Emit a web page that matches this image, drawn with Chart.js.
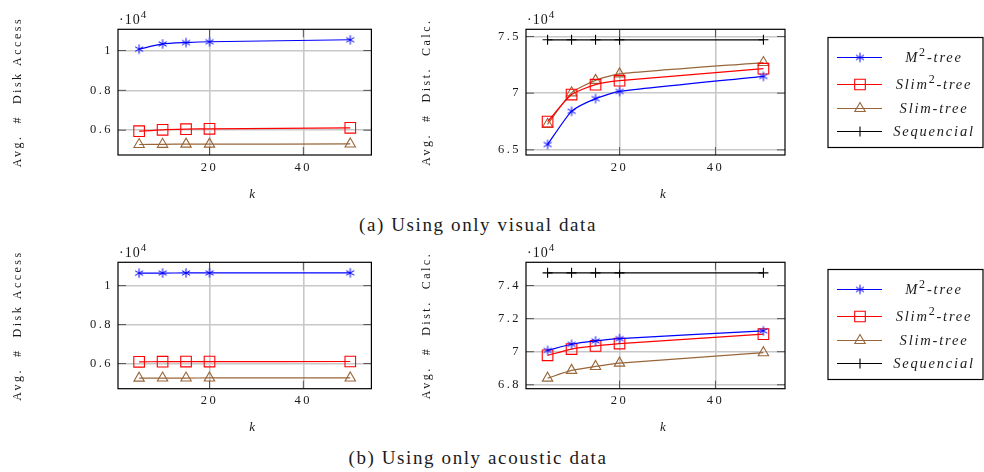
<!doctype html>
<html lang="en">
<head>
<meta charset="utf-8">
<title>Avg. disk access and distance calculations vs k</title>
<script src="https://cdn.jsdelivr.net/npm/chart.js"></script>
<style>
  body { margin: 0; background: #fff; width: 984px; height: 472px; position: relative; overflow: hidden;
         font-family: 'Liberation Serif', serif; color: #1a1a1a; }
  .plot { position: absolute; }
  .caption { position: absolute; left: 0; width: 956px; text-align: center; font-size: 19px;
             line-height: 20px; letter-spacing: 1.6px; }
</style>
</head>
<body>
<div class="plot" style="left:0;top:0"><canvas id="visDisk"></canvas></div>
<div class="plot" style="left:380px;top:0"><canvas id="visDist"></canvas></div>
<div class="caption" style="top:215px">(a) Using only visual data</div>
<div class="plot" style="left:0;top:232px"><canvas id="acoDisk"></canvas></div>
<div class="plot" style="left:380px;top:232px"><canvas id="acoDist"></canvas></div>
<div class="caption" style="top:448px">(b) Using only acoustic data</div>

<script>
// ---- data ----
const kValues = [5, 10, 15, 20, 50];
const xTicks = [20, 40];
const seriesNames = ['M²-tree', 'Slim²-tree', 'Slim-tree', 'Sequencial'];

// (a) visual data
const visDiskM2    = [10070, 10330, 10400, 10440, 10540];
const visDiskSlim2 = [5950, 6020, 6050, 6070, 6120];
const visDiskSlim  = [5280, 5290, 5300, 5300, 5310];
const visDistM2    = [65470, 68400, 69520, 70150, 71480];
const visDistSlim2 = [67490, 69880, 70750, 71100, 72160];
const visDistSlim  = [67250, 70030, 71130, 71700, 72700];
const visDistSeq   = [74710, 74710, 74710, 74710, 74710];

// (b) acoustic data
const acoDiskM2    = [10640, 10645, 10650, 10650, 10655];
const acoDiskSlim2 = [6090, 6095, 6100, 6100, 6105];
const acoDiskSlim  = [5250, 5255, 5255, 5260, 5260];
const acoDistM2    = [70080, 70450, 70650, 70790, 71260];
const acoDistSlim2 = [69780, 70160, 70350, 70490, 71060];
const acoDistSlim  = [68400, 68870, 69110, 69310, 69940];
const acoDistSeq   = [74770, 74770, 74770, 74770, 74770];

const diskTicks    = [6000, 8000, 10000];
const visDistTicks = [65000, 70000, 75000];
const acoDistTicks = [68000, 70000, 72000, 74000];

// ---- styling ----
Chart.defaults.font.family = "'Liberation Serif', serif";
Chart.defaults.color = '#1a1a1a';
const GRID = '#c8c8c8';
const X_AXIS_H = 48;
const NONE = 'rgba(0,0,0,0)';

function asterisk(color) {
  const c = document.createElement('canvas');
  c.width = c.height = 12;
  const g = c.getContext('2d');
  g.strokeStyle = color;
  g.lineWidth = 1;
  g.translate(6, 6);
  for (const a of [90, 30, -30]) {
    const r = a * Math.PI / 180;
    g.beginPath();
    g.moveTo(-4.7 * Math.cos(r), -4.7 * Math.sin(r));
    g.lineTo(4.7 * Math.cos(r), 4.7 * Math.sin(r));
    g.stroke();
  }
  return c;
}

const styles = [
  { color: '#0000ff', pointStyle: asterisk('#0000ff'), radius: 5 },
  { color: '#ff0000', pointStyle: 'rect', radius: 7.5 },
  { color: '#99663a', pointStyle: 'triangle', radius: 6 },
  { color: '#000000', pointStyle: 'cross', radius: 5 }
];

function series(i, values) {
  const s = styles[i];
  return {
    label: seriesNames[i],
    data: kValues.map((k, j) => ({ x: k, y: values[j] })),
    borderColor: s.color,
    backgroundColor: NONE,
    borderWidth: 1.2,
    pointStyle: s.pointStyle,
    pointRadius: s.radius,
    pointBorderColor: s.color,
    pointBackgroundColor: NONE,
    pointBorderWidth: 1.1,
    tension: 0.2
  };
}

// pgfplots-like limits: data range plus 10% each side
function limits(arrs) {
  const all = arrs.flat();
  const lo = Math.min(...all), hi = Math.max(...all);
  const pad = (hi - lo) * 0.1;
  return { min: lo - pad, max: hi + pad };
}

function richText(ctx, text, cx, y) {
  const parts = text.split('²');
  const base = 'italic 14.5px "Liberation Serif"';
  const sup = '12px "Liberation Serif"';
  ctx.font = base;
  const w0 = ctx.measureText(parts[0]).width;
  const w2 = parts.length > 1 ? ctx.measureText(parts[1]).width : 0;
  ctx.font = sup;
  const ws = parts.length > 1 ? ctx.measureText('2').width : 0;
  let x = cx - (w0 + ws + w2) / 2;
  ctx.font = base;
  ctx.fillText(parts[0], x, y);
  if (parts.length > 1) {
    x += w0;
    ctx.font = sup;
    ctx.fillText('2', x, y - 6);
    x += ws;
    ctx.font = base;
    ctx.fillText(parts[1], x, y);
  }
}

const framePlugin = {
  id: 'frame',
  beforeDraw(chart) {
    chart.ctx.letterSpacing = '2.5px';
  },
  afterDraw(chart, args, opts) {
    const { ctx, chartArea: a, scales } = chart;
    ctx.save();
    // inner tick marks on all four sides
    ctx.strokeStyle = '#555';
    ctx.lineWidth = 1;
    ctx.beginPath();
    scales.x.ticks.forEach(t => {
      const x = scales.x.getPixelForValue(t.value);
      ctx.moveTo(x, a.bottom); ctx.lineTo(x, a.bottom - 8);
      ctx.moveTo(x, a.top); ctx.lineTo(x, a.top + 8);
    });
    scales.y.ticks.forEach(t => {
      const y = scales.y.getPixelForValue(t.value);
      ctx.moveTo(a.left, y); ctx.lineTo(a.left + 8, y);
      ctx.moveTo(a.right, y); ctx.lineTo(a.right - 8, y);
    });
    ctx.stroke();
    // axis box
    ctx.strokeStyle = '#000';
    ctx.lineWidth = 1.2;
    ctx.strokeRect(a.left, a.top, a.right - a.left, a.bottom - a.top);
    // scale factor
    ctx.fillStyle = '#1a1a1a';
    ctx.letterSpacing = '1px';
    ctx.textAlign = 'left';
    ctx.textBaseline = 'alphabetic';
    ctx.font = '14px "Liberation Serif"';
    ctx.fillText('·10', a.left + 1, a.top - 5);
    const w = ctx.measureText('·10').width;
    ctx.font = '11px "Liberation Serif"';
    ctx.fillText('4', a.left + 1 + w, a.top - 11);

    const L = opts.legend;
    if (L) {
      ctx.strokeStyle = '#000';
      ctx.lineWidth = 1.2;
      ctx.strokeRect(L.x, L.y, L.w, L.h);
      ctx.letterSpacing = '1.8px';
      chart.data.datasets.forEach((ds, i) => {
        const y = L.rows[i];
        ctx.strokeStyle = ds.borderColor;
        ctx.lineWidth = ds.borderWidth;
        ctx.beginPath();
        ctx.moveTo(L.x + 9, y); ctx.lineTo(L.x + 54, y);
        ctx.stroke();
        ctx.fillStyle = NONE;
        ctx.lineWidth = ds.pointBorderWidth;
        Chart.helpers.drawPoint(ctx, {
          pointStyle: ds.pointStyle, radius: ds.pointRadius,
          borderWidth: ds.pointBorderWidth, rotation: 0
        }, L.x + 32, y);
        ctx.fillStyle = '#1a1a1a';
        richText(ctx, ds.label, L.x + 106, y + 4.5);
      });
    }
    ctx.restore();
  }
};

function makeChart(id, w, h, box, yTitle, yTitlePad, yTicks, sets, legend) {
  const canvas = document.getElementById(id);
  canvas.width = w;
  canvas.height = h;
  const lim = limits(sets.map(s => s[1]));
  return new Chart(canvas, {
    type: 'line',
    data: { datasets: sets.map(([i, v]) => series(i, v)) },
    options: {
      responsive: false,
      animation: false,
      layout: { padding: { left: 0, top: box.top, right: w - box.right, bottom: h - box.bottom - X_AXIS_H } },
      plugins: { legend: { display: false }, tooltip: { enabled: false }, frame: { legend } },
      scales: {
        x: {
          type: 'linear', min: 0.5, max: 54.5,
          afterBuildTicks: s => { s.ticks = xTicks.map(v => ({ value: v })); },
          afterFit: s => { s.height = X_AXIS_H; },
          grid: { color: GRID, lineWidth: 1.6, drawTicks: false },
          border: { display: false },
          ticks: { padding: 5, autoSkip: false, maxRotation: 0, font: { size: 12.5 }, callback: v => String(v) },
          title: { display: true, text: '   k', font: { size: 13, style: 'italic' }, padding: { top: 0, bottom: 1 } }
        },
        y: {
          min: lim.min, max: lim.max,
          afterBuildTicks: s => { s.ticks = yTicks.map(v => ({ value: v })); },
          afterFit: s => { s.width = box.left; },
          grid: { color: GRID, lineWidth: 1.6, drawTicks: false },
          border: { display: false },
          ticks: { padding: 5, autoSkip: false, font: { size: 12.5 }, callback: v => String(v / 1e4) },
          title: { display: true, text: yTitle, font: { size: 12 }, padding: { top: yTitlePad, bottom: 0 } }
        }
      }
    },
    plugins: [framePlugin]
  });
}

const legendBox = { x: 448, y: 37.5, w: 155, h: 110, rows: [57.5, 84.5, 108.5, 131.5] };

makeChart('visDisk', 380, 210, { left: 118, top: 29.3, right: 377, bottom: 155 },
  'Avg.  #  Disk Access', 11, diskTicks,
  [[0, visDiskM2], [1, visDiskSlim2], [2, visDiskSlim]]);
makeChart('visDist', 604, 210, { left: 146, top: 29.3, right: 405, bottom: 155 },
  'Avg.  #  Dist.  Calc.', 40, visDistTicks,
  [[0, visDistM2], [1, visDistSlim2], [2, visDistSlim], [3, visDistSeq]], legendBox);
makeChart('acoDisk', 380, 210, { left: 118, top: 30.3, right: 377, bottom: 156.7 },
  'Avg.  #  Disk Access', 11, diskTicks,
  [[0, acoDiskM2], [1, acoDiskSlim2], [2, acoDiskSlim]]);
makeChart('acoDist', 604, 210, { left: 146, top: 30.3, right: 405, bottom: 156.7 },
  'Avg.  #  Dist.  Calc.', 40, acoDistTicks,
  [[0, acoDistM2], [1, acoDistSlim2], [2, acoDistSlim], [3, acoDistSeq]], legendBox);
</script>
</body>
</html>
